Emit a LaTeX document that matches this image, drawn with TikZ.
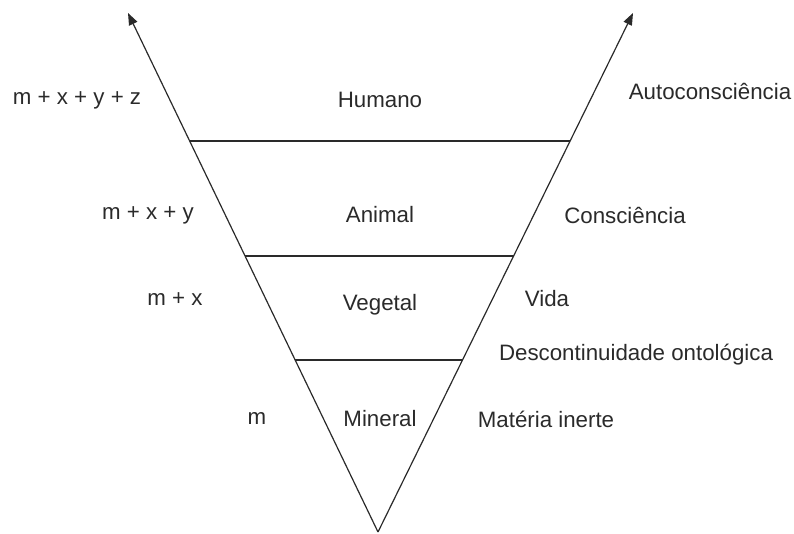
\documentclass[tikz,border=0pt]{standalone}
\usepackage{fontspec}
\setmainfont{Liberation Sans}
\usetikzlibrary{arrows.meta,calc}
\definecolor{ink}{HTML}{2A2A2A}
\begin{document}
\begin{tikzpicture}[x=1pt,y=1pt,
  side/.style={draw=ink,line width=1.2pt,-{Triangle[length=12pt,width=9pt]}},
  level/.style={draw=ink,line width=1.1pt},
  lbl/.style={text=ink,font=\fontsize{22.3}{25}\selectfont,inner sep=0pt}]
\useasboundingbox (0,0) rectangle (794,534);
\coordinate (apex) at (378,2);
\coordinate (ltip) at (128,521);
\coordinate (rtip) at (633,521);
\draw[side] (apex) -- (ltip);
\draw[side] (apex) -- (rtip);
\coordinate (l1) at ($(apex)!0.7534!(ltip)$);
\coordinate (r1) at ($(apex)!0.7534!(rtip)$);
\coordinate (l2) at ($(apex)!0.5318!(ltip)$);
\coordinate (r2) at ($(apex)!0.5318!(rtip)$);
\coordinate (l3) at ($(apex)!0.3314!(ltip)$);
\coordinate (r3) at ($(apex)!0.3314!(rtip)$);
\draw[level] (l1) -- (r1);
\draw[level] (l2) -- (r2);
\draw[level] (l3) -- (r3);
\node[lbl] (f4) at (77,434) {m + x + y + z};
\node[lbl] (n4) at (380,434) {Humano};
\node[lbl] (d4) at (710,442) {Autoconsciência};
\node[lbl] (f3) at (148,319) {m + x + y};
\node[lbl] (n3) at (380,319) {Animal};
\node[lbl] (d3) at (625,319) {Consciência};
\node[lbl] (f2) at (175,235) {m + x};
\node[lbl] (n2) at (380,229) {Vegetal};
\node[lbl] (d2) at (547,235) {Vida};
\node[lbl] (dd) at (636,179) {Descontinuidade ontológica};
\node[lbl] (f1) at (257,115) {m};
\node[lbl] (n1) at (380,115) {Mineral};
\node[lbl] (d1) at (546,115) {Matéria inerte};
\end{tikzpicture}
\end{document}
